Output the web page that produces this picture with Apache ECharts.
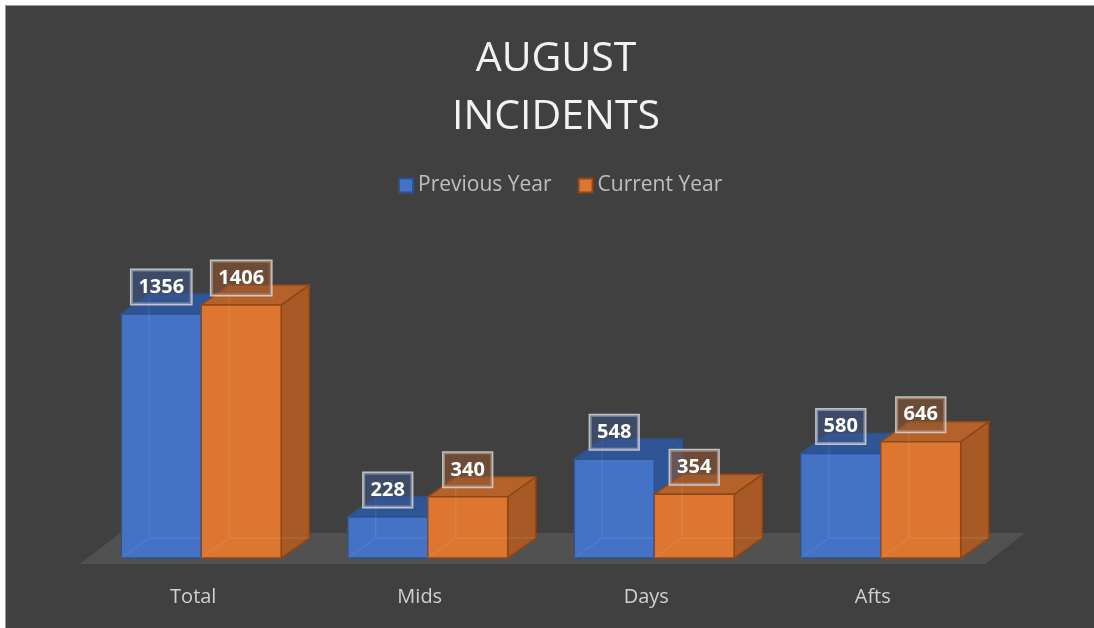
<!DOCTYPE html>
<html>
<head>
<meta charset="utf-8">
<script src="https://cdn.jsdelivr.net/npm/echarts@6/dist/echarts.min.js"></script>
<style>
  html, body { margin: 0; padding: 0; background: #fff; }
  #chart {
    position: absolute; left: 5px; top: 5px;
    width: 1089px; height: 623px;
    border-left: 1px solid #9a9a9a; border-top: 1px solid #9a9a9a;
    box-sizing: border-box;
  }
</style>
</head>
<body>
<div id="chart"></div>
<script>
const categories = ['Total', 'Mids', 'Days', 'Afts']
const previousYear = [1356, 228, 548, 580]
const currentYear = [1406, 340, 354, 646]

// depth of the 3d bars
const DX = 28
const DY = -20

const palettes = [
    { front: '#4472c4', top: '#2f5597', side: '#2f5597', edge: '#2f528f', box: 'rgba(60,85,140,0.5)' },
    { front: '#dc7631', top: '#b5622a', side: '#a85a26', edge: '#8e4716', box: 'rgba(140,85,50,0.6)' }
]

const makeBar = (idx) => (params, api) => {
    const c = palettes[idx]
    const base = api.coord([api.value(0), 0])
    const top = api.coord([api.value(0), api.value(1)])
    const band = api.size([1, 0])[0]
    const w = band * 0.353
    const x0 = idx === 0 ? base[0] - w : base[0]
    const yt = top[1]
    const yb = base[1]
    const edge = { stroke: c.edge, lineWidth: 1.5 }
    return {
        type: 'group',
        children: [
            {
                type: 'polygon',
                shape: { points: [[x0 + w, yt], [x0 + w + DX, yt + DY], [x0 + w + DX, yb + DY], [x0 + w, yb]] },
                style: Object.assign({ fill: c.side }, edge)
            },
            {
                type: 'polygon',
                shape: { points: [[x0, yt], [x0 + w, yt], [x0 + w + DX, yt + DY], [x0 + DX, yt + DY]] },
                style: Object.assign({ fill: c.top }, edge)
            },
            {
                type: 'rect',
                shape: { x: x0, y: yt, width: w, height: yb - yt },
                style: Object.assign({ fill: c.front }, edge)
            },
            // faint hidden edges, the bars look a bit see-through
            {
                type: 'polyline',
                shape: { points: [[x0 + DX, yt + DY + 2], [x0 + DX, yb + DY], [x0 + w + DX, yb + DY]] },
                style: { stroke: 'rgba(255,255,255,0.08)', lineWidth: 1.5, fill: null }
            },
            {
                type: 'line',
                shape: { x1: x0, y1: yb, x2: x0 + DX, y2: yb + DY },
                style: { stroke: 'rgba(255,255,255,0.08)', lineWidth: 1.5 }
            },
            {
                type: 'text',
                x: x0 + w / 2,
                y: yt - 27,
                style: {
                    text: String(api.value(1)),
                    align: 'center',
                    verticalAlign: 'middle',
                    fill: '#ffffff',
                    font: 'bold 20px "Open Sans", sans-serif',
                    backgroundColor: c.box,
                    borderColor: 'rgba(215,215,215,0.85)',
                    borderWidth: 1.5,
                    padding: [7, 7, 7, 7]
                }
            }
        ]
    }
}

const renderFloor = (params, api) => {
    const cs = params.coordSys
    const yf = cs.y + cs.height + 6
    const xl = cs.x - 8
    const xr = cs.x + cs.width - 9
    return {
        type: 'polygon',
        shape: { points: [[xl, yf], [xr, yf], [xr + 40, yf - 31], [xl + 40, yf - 31]] },
        style: { fill: '#515151' }
    }
}

let myChart = echarts.init(document.getElementById('chart'))
myChart.setOption({
    backgroundColor: '#404040',
    animation: false,
    title: {
        text: 'AUGUST\nINCIDENTS',
        left: 550,
        textAlign: 'center',
        top: 24,
        padding: 0,
        textStyle: {
            color: '#f2f2f2',
            fontSize: 41,
            fontWeight: 'normal',
            fontFamily: '"Open Sans", sans-serif',
            lineHeight: 58
        }
    },
    legend: {
        data: ['Previous Year', 'Current Year'],
        top: 169,
        left: 392,
        padding: 0,
        icon: 'rect',
        itemWidth: 14,
        itemHeight: 14,
        itemGap: 26,
        textStyle: { color: '#bfbfbf', fontSize: 21, fontFamily: '"Open Sans", sans-serif' }
    },
    grid: { left: 82, right: 100, top: 264, bottom: 70 },
    xAxis: {
        type: 'category',
        data: categories,
        axisLine: { show: false },
        axisTick: { show: false },
        axisLabel: {
            color: '#d0d0d0',
            fontSize: 20,
            margin: 29,
            padding: [0, 16, 0, 0],
            fontFamily: '"Open Sans", sans-serif'
        }
    },
    yAxis: {
        type: 'value',
        min: 0,
        max: 1600,
        show: false,
        splitLine: { show: false }
    },
    series: [
        {
            name: 'floor',
            type: 'custom',
            silent: true,
            data: [[0, 0]],
            renderItem: renderFloor
        },
        {
            name: 'Previous Year',
            type: 'custom',
            data: previousYear.map((v, i) => [i, v]),
            itemStyle: { color: '#4472c4', borderColor: '#2f528f', borderWidth: 1.5 },
            renderItem: makeBar(0)
        },
        {
            name: 'Current Year',
            type: 'custom',
            data: currentYear.map((v, i) => [i, v]),
            itemStyle: { color: '#dc7631', borderColor: '#8e4716', borderWidth: 1.5 },
            renderItem: makeBar(1)
        }
    ]
})
</script>
</body>
</html>
